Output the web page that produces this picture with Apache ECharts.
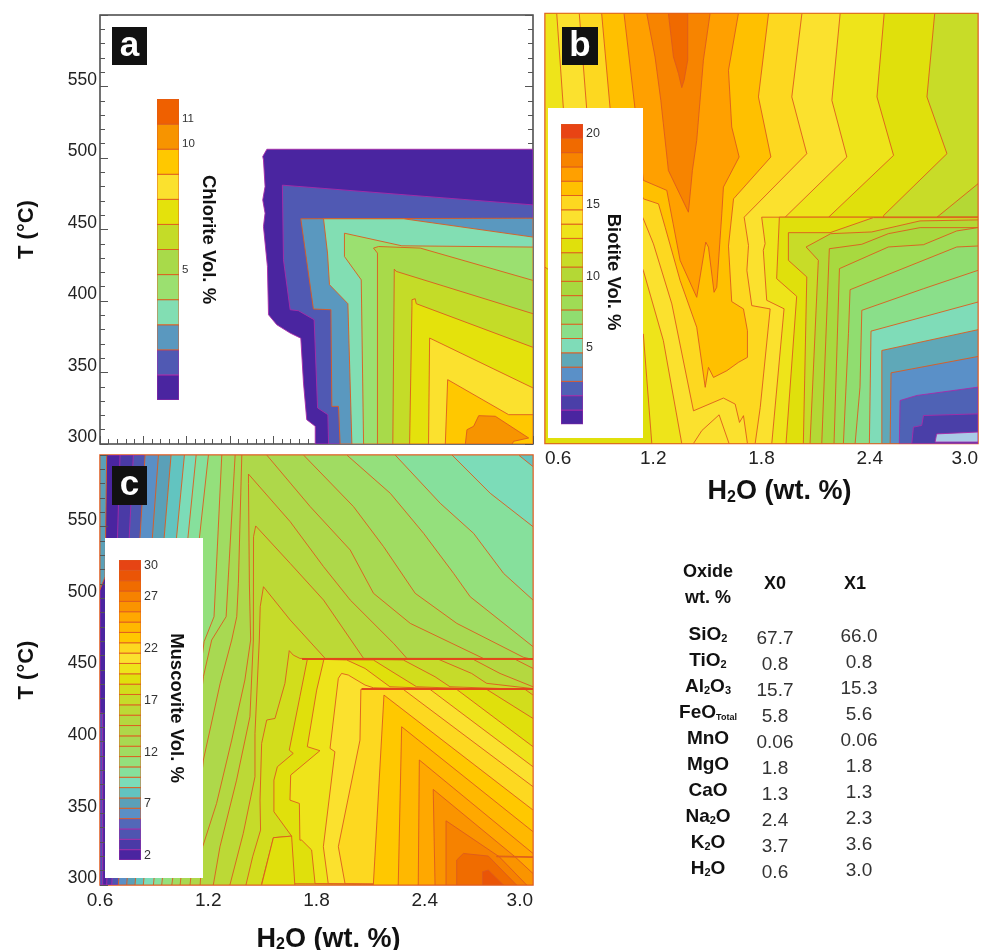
<!DOCTYPE html>
<html><head><meta charset="utf-8">
<style>html,body{margin:0;padding:0;background:#fff}#c{width:988px;height:950px}</style>
<script src="https://cdn.jsdelivr.net/npm/echarts@6/dist/echarts.min.js"></script></head>
<body><div id="c"></div>
<script>
// ---------- axis data ----------
const tempTicks = [300,350,400,450,500,550];
const h2oLabels = [0.6,1.2,1.8,2.4,3.0];
const h2oMajorTicks = [0.6,0.84,1.08,1.32,1.56,1.8,2.04,2.28,2.52,2.76,3.0];
const h2oMinorTicks = [0.648,0.696,0.744,0.792,0.888,0.936,0.984,1.032,1.128,1.176,1.224,1.272,1.368,1.416,1.464,1.512,1.608,1.656,1.704,1.752,1.848,1.896,1.944,1.992,2.088,2.136,2.184,2.232,2.328,2.376,2.424,2.472,2.568,2.616,2.664,2.712,2.808,2.856,2.904,2.952];

// ---------- colour-bar data ----------
const chloriteColors = ['#4a25a0','#5059b3','#5a98bf','#82deb3','#9be070','#a8da4a','#c4dc28','#e4e20c','#fbe12e','#ffc800','#f79400','#ef6000'];
const chloriteLabels = [11,10,5];
const biotiteColors = ['#4a25a0','#4a3fa8','#4f62b5','#5a90c8','#5fa8b8','#7fdcb8','#8adf8a','#90dd70','#9fdc55','#a8d93f','#b4d835','#c8dc28','#e0e00c','#eee41a','#fbe12e','#fdd820','#ffc000','#ffa000','#f78400','#f06a00','#e84414'];
const biotiteLabels = [20,15,10,5];
const muscoviteColors = ['#4a25a0','#4a3aa6','#4e55b0','#5268b8','#5a8fc6','#5aa0b8','#62c4c0','#7cdcb8','#86e09c','#94e07c','#a0dc62','#a8d952','#aed84a','#b4d840','#bcd936','#c6db2a','#d2dd1c','#e0e00c','#eee41a','#fbe12e','#fdd820','#ffc800','#ffb800','#ffa800','#fa9400','#f68200','#f06c00','#ea5506','#e64414'];
const muscoviteLabels = [30,27,22,17,12,7,2];

// ---------- table data ----------
const oxideNames = ['SiO{s|2}','TiO{s|2}','Al{s|2}O{s|3}','FeO{t|Total}','MnO','MgO','CaO','Na{s|2}O','K{s|2}O','H{s|2}O'];
const x0Values = ['67.7','0.8','15.7','5.8','0.06','1.8','1.3','2.4','3.7','0.6'];
const x1Values = ['66.0','0.8','15.3','5.6','0.06','1.8','1.3','2.3','3.6','3.0'];

// ---------- contour regions: [H2O wt.%, T °C] vertices, level = Vol.% class ----------
const chloriteContours = [
 {level:0,points:[[1.502,501],[1.525,506.1],[3,506.1],[3,300],[1.793,300],[1.793,312.4],[1.746,317],[1.728,342.6],[1.713,374],[1.654,377.6],[1.58,383.4],[1.534,390.4],[1.528,424.2],[1.506,452.1],[1.515,461.4],[1.502,470.7],[1.515,480],[1.506,498.7]]},
 {level:1,points:[[1.611,481],[3,467.2],[3,300],[1.867,300],[1.863,320.5],[1.806,325.2],[1.787,386.9],[1.7,393.2],[1.654,393.9],[1.617,428.8]]},
 {level:2,points:[[1.713,457.5],[3,457.9],[3,300],[1.931,300],[1.922,326.3],[1.885,326.3],[1.88,393.9],[1.783,394.4]]},
 {level:3,points:[[1.839,457.5],[2.283,457.5],[3,444.7],[3,300],[1.996,300],[1.974,398.1],[1.872,411.4],[1.861,433.5]]},
 {level:4,points:[[1.955,447.4],[2.273,438.6],[3,437.7],[3,300],[2.061,300],[2.048,414.8],[1.955,431.1]]},
 {level:5,points:[[2.116,437],[2.144,438.1],[2.375,437],[3,414.4],[3,300],[2.138,300],[2.138,433.5]]},
 {level:6,points:[[2.231,422.3],[2.242,420.7],[3,391.1],[3,300],[2.223,300],[2.231,419.5]]},
 {level:7,points:[[2.329,400.9],[2.347,401.6],[2.353,398.1],[3,367.6],[3,300],[2.316,300],[2.329,396.2]]},
 {level:8,points:[[2.427,374.1],[3,339.2],[3,300],[2.421,300]]},
 {level:9,points:[[2.527,345],[2.865,320.5],[3,320.5],[3,300],[2.514,300]]},
 {level:10,points:[[2.699,319.8],[2.791,319.4],[2.976,304.2],[2.893,301.9],[2.884,300],[2.625,300],[2.634,310],[2.671,312.4]]}
];
const biotiteContours = [
 {level:11,points:[[0.6,600],[3,600],[3,300],[0.6,300]]},
 {level:12,points:[[0.6,600],[2.76,600],[2.717,541.8],[2.828,502.2],[2.477,459.1],[2.477,300],[0.6,300]]},
 {level:13,points:[[0.6,600],[2.48,600],[2.44,541.8],[2.532,501],[2.172,457.9],[2.172,300],[1.192,300],[1.145,376.4],[0.6,423]]},
 {level:14,points:[[0.665,600],[2.236,600],[2.19,539.4],[2.273,499.9],[1.931,457.9],[1.931,300],[1.358,300],[1.256,371.8],[1.145,420.7],[0.702,533.6]]},
 {level:15,points:[[0.79,600],[2.024,600],[1.968,541.8],[2.051,502.2],[1.704,457.9],[1.728,438.1],[1.719,420.7],[1.746,396.2],[1.848,393.9],[1.793,325.2],[1.765,300],[1.722,300],[1.7,319.4],[1.678,314.7],[1.654,327.5],[1.589,331.7],[1.423,322.8],[1.303,397.4],[1.201,439.3],[1.145,456.8],[0.831,533.6]]},
 {level:16,points:[[0.914,600],[1.839,600],[1.783,541.8],[1.852,499.9],[1.645,470.7],[1.617,437.7],[1.635,399],[1.7,393.9],[1.722,378.7],[1.722,360.1],[1.672,356.6],[1.608,350.8],[1.534,346.1],[1.506,353.1],[1.488,339.2],[1.441,381.1],[1.349,413.7],[1.266,450.9],[1.229,467.2],[1.145,470.7],[0.961,533.6]]},
 {level:17,points:[[1.038,600],[1.672,600],[1.617,560.4],[1.635,520.8],[1.676,499.9],[1.589,478.9],[1.58,460.3],[1.552,409],[1.537,405.5],[1.506,437],[1.491,440.5],[1.441,402],[1.349,427.7],[1.275,476.6],[1.145,483.6],[1.099,533.6]]},
 {level:18,points:[[1.164,600],[1.515,600],[1.478,567.4],[1.441,511.5],[1.417,490.5],[1.395,461.4],[1.284,490.5],[1.242,539.4],[1.21,569.7]]},
 {level:19,points:[[1.284,600],[1.391,600],[1.391,567.4],[1.371,553.4],[1.358,548.3],[1.34,558.1],[1.312,569.7]]},
 {level:14,points:[[1.423,300],[1.469,309],[1.565,320],[1.62,300]]},
 {level:10,points:[[2.773,457.9],[3,481.2],[3,457.9]]},
 {level:13,points:[[1.801,457.9],[3,457.9],[3,300],[1.857,300],[1.925,394],[1.829,399.9],[1.81,434.8],[1.82,439.4]]},
 {level:12,points:[[1.899,457.9],[3,457.9],[3,300],[1.936,300],[1.995,402.7],[1.884,415]]},
 {level:11,points:[[1.949,447.1],[2.18,447.1],[2.42,457.6],[3,457.6],[3,300],[2.032,300],[2.051,416.2],[1.949,427.8]]},
 {level:10,points:[[2.047,437.1],[2.184,446.4],[2.411,447.6],[2.679,455.3],[3,456],[3,300],[2.069,300],[2.115,427.8]]},
 {level:9,points:[[2.176,435.9],[2.356,439],[2.503,446.4],[2.679,450.6],[3,450.6],[3,300],[2.134,300]]},
 {level:8,points:[[2.232,422],[2.503,437.1],[2.698,438.7],[2.882,448.3],[3,450.6],[3,300],[2.202,300]]},
 {level:7,points:[[2.291,407.3],[2.882,437.1],[3,437.8],[3,300],[2.254,300],[2.282,376.6]]},
 {level:6,points:[[2.356,392.9],[2.698,408],[3,420.8],[3,300],[2.319,300],[2.346,339.3]]},
 {level:5,points:[[2.407,378.4],[3,398.7],[3,300],[2.398,300]]},
 {level:4,points:[[2.467,364.9],[3,379.4],[3,300],[2.467,300]]},
 {level:3,points:[[2.518,349.3],[3,360.7],[3,300],[2.513,300]]},
 {level:2,points:[[2.568,330],[2.661,333.5],[3,339.3],[3,300],[2.564,300]]},
 {level:1,points:[[2.642,311.4],[2.688,312.6],[2.698,319.5],[3,320.7],[3,300],[2.633,300]]},
 {level:-1,points:[[2.771,306.7],[3,308],[3,301],[2.762,301]]}
];
const muscoviteContours = [
 {level:2,points:[[0.6,600],[3,600],[3,300],[0.6,300]]},
 {level:7,points:[[0.6,600],[0.637,600],[0.628,515],[0.6,506]]},
 {level:4,points:[[0.6,420],[0.615,420],[0.615,300],[0.6,300]]},
 {level:3,points:[[0.711,600],[3,600],[3,300],[0.637,300]]},
 {level:4,points:[[0.785,600],[3,600],[3,300],[0.665,300]]},
 {level:6,points:[[0.85,600],[3,600],[3,300],[0.702,300]]},
 {level:7,points:[[0.924,600],[3,600],[3,300],[0.748,300]]},
 {level:8,points:[[0.994,600],[3,600],[3,300],[0.794,300]]},
 {level:9,points:[[1.068,600],[2.92,600],[3,591.9],[3,300],[0.84,300]]},
 {level:10,points:[[1.133,600],[2.551,600],[2.763,573.3],[3,550],[3,300],[0.896,300]]},
 {level:11,points:[[1.201,600],[2.236,600],[2.486,566.3],[2.671,545.3],[2.837,517.4],[3,498.8],[3,300],[0.942,300]]},
 {level:12,points:[[1.275,600],[1.968,600],[2.209,573.3],[2.394,545.3],[2.56,517.4],[2.652,501.1],[3,466.3],[3,300],[0.998,300],[1.177,469.8],[1.232,487.2]]},
 {level:13,points:[[1.349,600],[1.728,600],[2.005,564],[2.172,536],[2.347,503.5],[2.578,482.5],[2.948,458.8],[3,457.4],[3,300],[1.044,300],[1.173,445.3],[1.219,470.9],[1.299,487.2]]},
 {level:14,points:[[1.386,600],[1.524,600],[1.765,564],[1.987,533.7],[2.116,503.5],[2.32,482.5],[2.726,458],[3,457.4],[3,300],[1.099,300],[1.173,387.2],[1.266,440.7],[1.33,470.9],[1.358,487.2],[1.367,510.5]]},
 {level:15,points:[[1.423,586.7],[1.654,553.5],[1.839,522.1],[1.987,498.8],[2.227,468.6],[2.301,458.1],[2.891,458.1],[3,451.1],[3,300],[1.155,300],[1.169,326.7],[1.246,356.9],[1.33,401.1],[1.403,443],[1.435,470.9],[1.428,510],[1.423,580]]},
 {level:16,points:[[1.463,550.5],[1.654,524.4],[1.839,498.8],[2.061,458.1],[2.66,458],[2.817,447.6],[3,438.3],[3,300],[1.228,300],[1.265,326.7],[1.357,373.2],[1.431,417.4],[1.45,470.9],[1.451,543]]},
 {level:17,points:[[1.506,508.1],[1.654,484.9],[1.848,458.1],[2.466,458],[2.66,447.6],[2.743,440.7],[3,437],[3,300],[1.32,300],[1.394,336],[1.459,375.5],[1.459,405.8],[1.483,470.9],[1.488,494.2]]},
 {level:18,points:[[1.649,463.5],[1.671,460.4],[1.708,458.1],[2.281,457],[2.457,445.3],[2.54,438.3],[2.956,436.5],[3,432.5],[3,300],[1.409,300],[1.446,319.7],[1.49,338.3],[1.487,359.2],[1.496,398.8],[1.524,415.1],[1.57,416.2],[1.625,440.7]]},
 {level:19,points:[[1.749,457.4],[2.115,457],[2.235,447.6],[2.355,438.3],[2.743,436.5],[3,416.2],[3,300],[1.496,301],[1.561,333],[1.662,334.1],[1.564,351.1],[1.564,373.2],[1.583,382.5],[1.671,391.8],[1.649,394.1],[1.708,431.4]]},
 {level:19,points:[[1.561,333],[1.662,334.1],[1.68,300],[1.496,300]]},
 {level:20,points:[[1.841,457.4],[1.967,457],[2.069,451.1],[2.207,438.3],[2.577,436.5],[3,396.5],[3,300],[1.792,301],[1.773,324.4],[1.718,331.3],[1.708,331.3],[1.705,356.9],[1.653,359.2],[1.657,376.7],[1.819,393.7],[1.749,396.5],[1.801,436]]},
 {level:21,points:[[1.939,447.6],[1.976,446.5],[2.069,439.5],[2.115,437.6],[2.429,436.5],[3,382.5],[3,300],[1.865,301],[1.838,326.7],[1.902,393],[1.875,395.3],[1.921,444.2]]},
 {level:22,points:[[2.046,436.5],[2.281,436.5],[3,368.6],[3,300],[1.958,301],[1.921,326.7],[2.041,401.1]]},
 {level:23,points:[[2.174,432.5],[3,352.3],[3,300],[2.115,300]]},
 {level:24,points:[[2.272,410.4],[3,337.2],[3,300],[2.253,300]]},
 {level:25,points:[[2.37,387.2],[3,322],[3,300],[2.364,300]]},
 {level:26,points:[[2.447,366.7],[2.9,319.7],[3,308],[3,300],[2.457,300]]},
 {level:27,points:[[2.518,344.8],[2.813,319.7],[2.965,300],[2.518,300]]},
 {level:28,points:[[2.577,317.4],[2.614,322],[2.752,320.2],[2.909,300],[2.577,300]]},
 {level:29,points:[[2.721,309.2],[2.752,310.4],[2.836,300],[2.721,300]]},
 {level:26,points:[[2.799,320.2],[3,319.7],[3,319.2],[2.799,319.7]]}
];
// sharp phase-boundary steps in the muscovite field
const muscoviteStepUpper = [[1.72,457.6],[3,457.6]];
const muscoviteStepLower = [[2.05,436.7],[3,436.7]];

// ---------- helpers ----------
const FONT = 'Liberation Sans, Arial, sans-serif';
const RED = '#de5a1e', MAGENTA = '#a82aa8', TICK = '#555';
function polygonSeries(name, polys, axisIndex, fillOf, lowLimit, z){
  return {type:'custom', name, coordinateSystem:'cartesian2d', xAxisIndex:axisIndex, yAxisIndex:axisIndex,
    silent:true, animation:false, clip:true, z, data:polys.map(p=>p.level),
    renderItem(params, api){
      const p = polys[params.dataIndex];
      return {type:'polygon', shape:{points:p.points.map(c=>api.coord(c))},
        style:{fill:fillOf(p.level), stroke:p.level<=lowLimit?MAGENTA:RED, lineWidth:0.9, lineJoin:'round'}};
    }};
}
function stepSeries(name, data){
  return {type:'line',name,xAxisIndex:2,yAxisIndex:2,data,z:1,silent:true,animation:false,symbol:'none',
    lineStyle:{color:'#e2481a',width:2}};
}
function legendPolys(count, firstValue, topOffset){
  const out=[];
  for(let i=0;i<count;i++){const v=firstValue+i; out.push({level:v,points:[[0,v+topOffset-1],[1,v+topOffset-1],[1,v+topOffset],[0,v+topOffset]]});}
  return out;
}
const H2O_NAME = '{b|H}{s|2}{b|O (wt. %)}';
const nameRich = {b:{fontFamily:FONT,fontSize:27,fontWeight:'bold',color:'#111'},
                  s:{fontFamily:FONT,fontSize:16,fontWeight:'bold',color:'#111',verticalAlign:'bottom',padding:[10,0,0,0]}};
function mainX(grid, opts){
  return Object.assign({type:'value',gridIndex:grid,position:'bottom',min:0.6,max:3.0,splitLine:{show:false},axisLine:{show:false},axisTick:{show:false},axisLabel:{show:false}},opts||{});
}
function xLabelled(grid){
  return {axisLabel:{show:true,customValues:h2oLabels,fontFamily:FONT,fontSize:19,color:'#222',margin:6,alignMinLabel:grid===1?'left':'center',alignMaxLabel:'right',formatter:v=>v.toFixed(1)},
    name:H2O_NAME,nameLocation:'middle',nameGap:grid===1?35:41,nameTextStyle:{rich:nameRich,padding:[0,0,0,grid===1?36:24]}};
}
function mainY(grid, labelled, opts){
  const y = {type:'value',gridIndex:grid,min:300,max:600,interval:50,splitLine:{show:false},axisLine:{show:false},axisTick:{show:false},axisLabel:{show:false}};
  if(labelled){
    y.axisTick={show:true,inside:true,length:8,lineStyle:{color:TICK,width:1}};
    y.minorTick={show:true,splitNumber:5,length:5,lineStyle:{color:TICK,width:1}};
    y.axisLabel={show:true,customValues:tempTicks,fontFamily:FONT,fontSize:17.5,color:'#222',margin:3,verticalAlign:'bottom',lineHeight:13};
    y.name='T (°C)';y.nameLocation='middle';y.nameRotate=90;y.nameGap=62;
    y.nameTextStyle={fontFamily:FONT,fontSize:22,fontWeight:'bold',color:'#111'};
  }
  return Object.assign(y,opts||{});
}
function legendX(grid){return {type:'value',gridIndex:grid,min:0,max:1,show:false};}
function legendY(grid,min,max,labels,title,gap,fs,pad){
  return {type:'value',gridIndex:grid,min,max,position:'right',z:8,splitLine:{show:false},axisLine:{show:false},axisTick:{show:false},
    axisLabel:{customValues:labels,fontFamily:FONT,fontSize:fs,color:'#333',margin:3},
    name:title,nameLocation:'middle',nameRotate:-90,nameGap:gap,
    nameTextStyle:{fontFamily:FONT,fontSize:18.5,fontWeight:'bold',color:'#111',padding:pad}};
}
function badge(x,y,w,h,t){
  return {type:'group',children:[
    {type:'rect',z:50,shape:{x,y,width:w,height:h},style:{fill:'#111'}},
    {type:'text',z:51,x:x+w/2,y:y+h/2,style:{text:t,fill:'#fff',font:'bold 35px '+FONT,textAlign:'center',textVerticalAlign:'middle'}}]};
}
const subRich = {s:{fontFamily:FONT,fontSize:11,fontWeight:'bold',fill:'#111',color:'#111',verticalAlign:'bottom',padding:[7,0,0,0]},
                 t:{fontFamily:FONT,fontSize:9,fontWeight:'bold',fill:'#111',color:'#111',verticalAlign:'bottom',padding:[7,0,0,0]}};
function tableText(x,y,text,bold,size,fill,rich){
  return {type:'text',x,y,style:{text,fill,font:(bold?'bold ':'')+size+'px '+FONT,textAlign:'center',textVerticalAlign:'middle',rich}};
}
const tableEls=[
  tableText(708,572,'Oxide',true,18,'#111'),
  tableText(708,598,'wt. %',true,18,'#111'),
  tableText(775,584,'X0',true,18,'#111'),
  tableText(855,584,'X1',true,18,'#111')
];
oxideNames.forEach((n,i)=>{
  tableEls.push(tableText(708,635+26*i,n,true,19,'#111',subRich));
  tableEls.push(tableText(775,639+26*i,x0Values[i],false,19,'#333'));
  tableEls.push(tableText(859,637+26*i,x1Values[i],false,19,'#333'));
});

// ---------- chart ----------
const chart = echarts.init(document.getElementById('c'),null,{renderer:'canvas'});
chart.setOption({
  animation:false,backgroundColor:'#fff',
  grid:[
    {left:100,top:15,width:433,height:429,show:true,borderColor:'#444',borderWidth:1.5,backgroundColor:'#fff',outerBoundsMode:'none'},
    {left:545,top:13.5,width:433,height:430,show:true,borderColor:RED,borderWidth:1.5,backgroundColor:'#fff',outerBoundsMode:'none'},
    {left:100,top:455,width:433,height:430,show:true,borderColor:RED,borderWidth:1.5,backgroundColor:'#fff',outerBoundsMode:'none'},
    {left:157,top:99,width:22,height:301,outerBoundsMode:'none'},
    {left:561,top:124,width:22,height:300.3,outerBoundsMode:'none'},
    {left:119,top:560,width:22,height:300,outerBoundsMode:'none'}
  ],
  xAxis:[
    mainX(0),
    mainX(1,xLabelled(1)),
    mainX(2,xLabelled(2)),
    legendX(3),legendX(4),legendX(5),
    mainX(0,{axisTick:{show:true,inside:true,length:8,customValues:h2oMajorTicks,lineStyle:{color:TICK}}}),
    mainX(0,{axisTick:{show:true,inside:true,length:5,customValues:h2oMinorTicks,lineStyle:{color:TICK}}})
  ],
  yAxis:[
    mainY(0,true),
    mainY(1,false),
    mainY(2,true,{z:3}),
    legendY(3,-0.2,11.8,chloriteLabels,'Chlorite Vol. %',11,11.5,[0,20,0,0]),
    legendY(4,-0.34,20.66,biotiteLabels,'Biotite Vol. %',21,12.5,[0,4,0,0]),
    legendY(5,1.58,30.58,muscoviteLabels,'Muscovite Vol. %',26,12.5,[0,4,0,0]),
    mainY(0,true,{position:'right',axisLabel:{show:false},name:''})
  ],
  series:[
    polygonSeries('Chlorite',chloriteContours,0,l=>chloriteColors[l],1,1),
    polygonSeries('Biotite',biotiteContours,1,l=>biotiteColors[l]||'#a9cbe6',2,1),
    polygonSeries('Muscovite',muscoviteContours,2,l=>muscoviteColors[l-2],5,1),
    stepSeries('Muscovite step upper',muscoviteStepUpper),
    stepSeries('Muscovite step lower',muscoviteStepLower),
    polygonSeries('Chlorite scale',legendPolys(chloriteColors.length,0,0.8),3,l=>chloriteColors[l],1,7),
    polygonSeries('Biotite scale',legendPolys(biotiteColors.length,0,0.66),4,l=>biotiteColors[l],2,7),
    polygonSeries('Muscovite scale',legendPolys(muscoviteColors.length,2,0.58),5,l=>muscoviteColors[l-2],5,7)
  ],
  graphic:{elements:[
    {type:'rect',z:5,shape:{x:548,y:108,width:95,height:330},style:{fill:'#fff'}},
    {type:'rect',z:5,shape:{x:105,y:538,width:98,height:340},style:{fill:'#fff'}},
    badge(112,27,35,38,'a'),
    badge(562,27,36,38,'b'),
    badge(112,466,35,39,'c'),
    ...tableEls
  ]}
});
</script></body></html>
